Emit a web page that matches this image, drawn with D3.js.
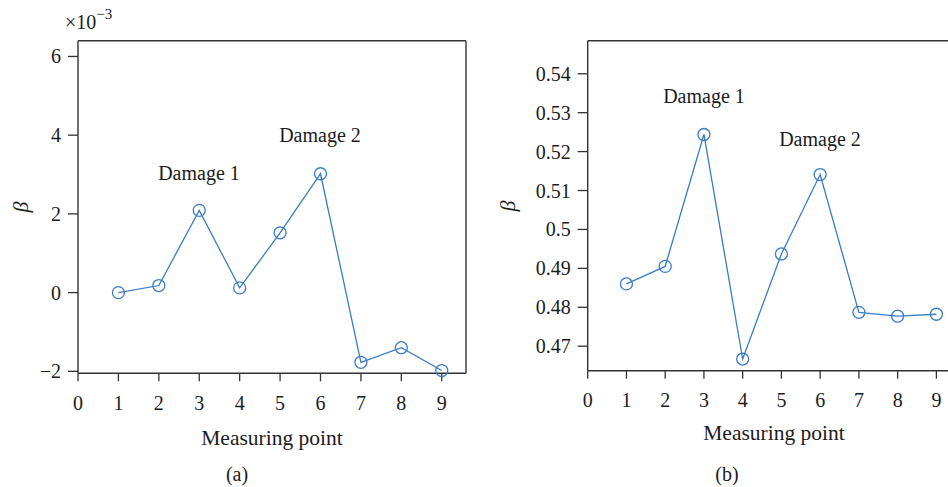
<!DOCTYPE html>
<html>
<head>
<meta charset="utf-8">
<script src="https://cdn.jsdelivr.net/npm/d3@7"></script>
<style>
  html, body { margin: 0; padding: 0; background: #fff; }
  svg text { font-family: "Liberation Serif", "DejaVu Serif", serif; fill: #1c1c1c; }
</style>
</head>
<body>
<svg id="chart" width="948" height="487"></svg>
<script>
"use strict"

// measuring points, shared by both panels
const points = [1, 2, 3, 4, 5, 6, 7, 8, 9];
const xTicks = [0, 1, 2, 3, 4, 5, 6, 7, 8, 9];

// panel (a): beta in units of 1e-3
const betaA = [0.00, 0.18, 2.09, 0.12, 1.52, 3.02, -1.77, -1.40, -1.98];
const yTicksA = [-2, 0, 2, 4, 6];

// panel (b)
const betaB = [0.4860, 0.4905, 0.5244, 0.4667, 0.4937, 0.5141, 0.4787, 0.4777, 0.4782];
const yTicksB = [0.47, 0.48, 0.49, 0.50, 0.51, 0.52, 0.53, 0.54];

const lineColor = "#3b7cc6";
const axisColor = "#333";

const svg = d3.select("#chart");

function drawPanel(opt) {
    const g = svg.append("g");
    const x = d3.scaleLinear().domain(opt.xDomain).range([opt.left, opt.right]);
    const y = d3.scaleLinear().domain(opt.yDomain).range([opt.bottom, opt.top]);

    // frame: left, bottom, top and (maybe) right
    g.append("line").attr("x1", opt.left).attr("x2", opt.left)
        .attr("y1", opt.top).attr("y2", opt.bottom);
    g.append("line").attr("x1", opt.left).attr("x2", opt.right)
        .attr("y1", opt.bottom).attr("y2", opt.bottom);
    g.append("line").attr("x1", opt.left).attr("x2", opt.right)
        .attr("y1", opt.top).attr("y2", opt.top);
    if (opt.rightBorder) {
        g.append("line").attr("x1", opt.right).attr("x2", opt.right)
            .attr("y1", opt.top).attr("y2", opt.bottom);
    }
    g.selectAll("line").attr("stroke", axisColor).attr("stroke-width", 1.4);

    // x ticks
    const xt = g.append("g");
    xt.selectAll("line").data(xTicks).enter().append("line")
        .attr("x1", d => x(d)).attr("x2", d => x(d))
        .attr("y1", opt.bottom).attr("y2", opt.bottom + 8)
        .attr("stroke", axisColor).attr("stroke-width", 1.3);
    xt.selectAll("text").data(xTicks).enter().append("text")
        .attr("x", d => x(d)).attr("y", opt.xLabelY)
        .attr("text-anchor", "middle").attr("dominant-baseline", "central")
        .attr("font-size", 20)
        .text(d => d);

    // y ticks
    const yt = g.append("g");
    yt.selectAll("line").data(opt.yTicks).enter().append("line")
        .attr("x1", opt.left - 10).attr("x2", opt.left)
        .attr("y1", d => y(d)).attr("y2", d => y(d))
        .attr("stroke", axisColor).attr("stroke-width", 1.3);
    yt.selectAll("text").data(opt.yTicks).enter().append("text")
        .attr("x", opt.left - 17).attr("y", d => y(d))
        .attr("text-anchor", "end").attr("dominant-baseline", "central")
        .attr("font-size", 20)
        .text(opt.yFormat);

    // series
    const data = points.map((p, i) => [p, opt.values[i]]);
    const line = d3.line().x(d => x(d[0])).y(d => y(d[1]));
    g.append("path").datum(data)
        .attr("d", line)
        .attr("fill", "none")
        .attr("stroke", lineColor)
        .attr("stroke-width", 1.3);
    g.selectAll("circle").data(data).enter().append("circle")
        .attr("cx", d => x(d[0])).attr("cy", d => y(d[1]))
        .attr("r", 6)
        .attr("fill", "none")
        .attr("stroke", lineColor)
        .attr("stroke-width", 1.3);

    // annotations
    opt.notes.forEach(n => {
        g.append("text")
            .attr("x", n.x).attr("y", n.y)
            .attr("text-anchor", "middle").attr("dominant-baseline", "central")
            .attr("font-size", 20)
            .text(n.text);
    });

    // axis titles
    g.append("text")
        .attr("transform", `translate(${opt.betaX},${opt.betaY}) rotate(-90)`)
        .attr("text-anchor", "middle").attr("dominant-baseline", "central")
        .attr("font-size", 22).attr("font-style", "italic")
        .text("β");
    g.append("text")
        .attr("x", opt.titleX).attr("y", opt.titleY)
        .attr("text-anchor", "middle").attr("dominant-baseline", "central")
        .attr("font-size", 21.5)
        .text("Measuring point");
    g.append("text")
        .attr("x", opt.capX).attr("y", 474)
        .attr("text-anchor", "middle").attr("dominant-baseline", "central")
        .attr("font-size", 20)
        .text(opt.caption);
    return g;
}

const gA = drawPanel({
    left: 78, right: 466, top: 40.7, bottom: 373.3,
    xDomain: [0, 9.6], yDomain: [-2.05, 6.4],
    yTicks: yTicksA, yFormat: d => d < 0 ? "\u2212" + Math.abs(d) : d,
    values: betaA, rightBorder: true,
    xLabelY: 403,
    notes: [{text: "Damage 1", x: 199, y: 173}, {text: "Damage 2", x: 320, y: 135}],
    betaX: 20, betaY: 207,
    titleX: 272, titleY: 438,
    capX: 237, caption: "(a)"
});

// exponent label for panel (a)
const expo = gA.append("text")
    .attr("x", 65).attr("y", 29)
    .attr("font-size", 20);
expo.append("tspan").text("\u00d710");
expo.append("tspan").attr("dy", -10).attr("font-size", 15).text("\u22123");

drawPanel({
    left: 587.7, right: 948, top: 40.7, bottom: 370.7,
    xDomain: [0, 9.3], yDomain: [0.4637, 0.5485],
    yTicks: yTicksB, yFormat: d => d3.format("")(+d.toFixed(2)),
    values: betaB, rightBorder: false,
    xLabelY: 400,
    notes: [{text: "Damage 1", x: 704, y: 96}, {text: "Damage 2", x: 820, y: 139}],
    betaX: 507, betaY: 206,
    titleX: 774, titleY: 433,
    capX: 727, caption: "(b)"
});
</script>
</body>
</html>
